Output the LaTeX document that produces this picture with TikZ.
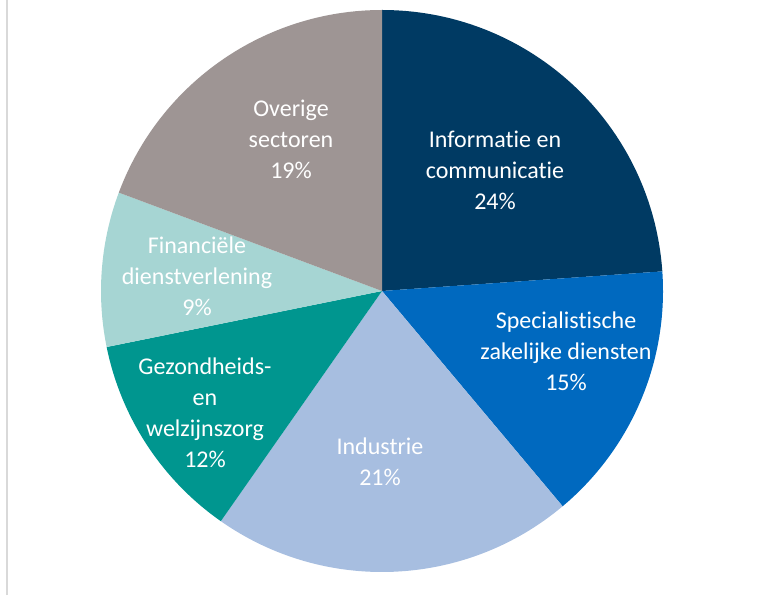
\documentclass[tikz,border=0pt]{standalone}
\usepackage{fontspec}
\setmainfont{Carlito}[Ligatures=NoCommon]
\definecolor{navy}{HTML}{003A63}
\definecolor{midblue}{HTML}{0069BF}
\definecolor{lightblue}{HTML}{A7BEE0}
\definecolor{teal}{HTML}{00968F}
\definecolor{lightteal}{HTML}{A6D5D3}
\definecolor{taupe}{HTML}{9E9594}
\tikzset{
    lbl/.style={text=white, align=center, font=\fontsize{24}{31}\selectfont}
}
\begin{document}
\begin{tikzpicture}[x=1pt,y=1pt]
                \useasboundingbox (0,0) rectangle (760,595);
                \draw[gray!30, line width=1.5pt] (7,0) -- (7,595);

                \coordinate (c) at (382,304);

                \fill[navy] (c) -- ++(4:281) arc[start angle=4, end angle=90, radius=281] -- cycle;
                \fill[midblue] (c) -- ++(-50:281) arc[start angle=-50, end angle=4, radius=281] -- cycle;
                \fill[lightblue] (c) -- ++(-125:281) arc[start angle=-125, end angle=-50, radius=281] -- cycle;
                \fill[teal] (c) -- ++(-168.5:281) arc[start angle=-168.5, end angle=-125, radius=281] -- cycle;
                \fill[lightteal] (c) -- ++(159.5:281) arc[start angle=159.5, end angle=191.5, radius=281] -- cycle;
                \fill[taupe] (c) -- ++(90:281) arc[start angle=90, end angle=159.5, radius=281] -- cycle;

                \node[lbl] (info) at (495,425) {Informatie en\\communicatie\\24\%};
                \node[lbl] (spec) at (566,244) {Specialistische\\zakelijke diensten\\15\%};
                \node[lbl] (ind) at (380,133.5) {Industrie\\21\%};
                \node[lbl] (gez) at (205,182.5) {Gezondheids-\\en\\welzijnszorg\\12\%};
                \node[lbl] (fin) at (197,319) {Financiële\\dienstverlening\\9\%};
                \node[lbl] (ov) at (291,456) {Overige\\sectoren\\19\%};

            \end{tikzpicture}
\end{document}
